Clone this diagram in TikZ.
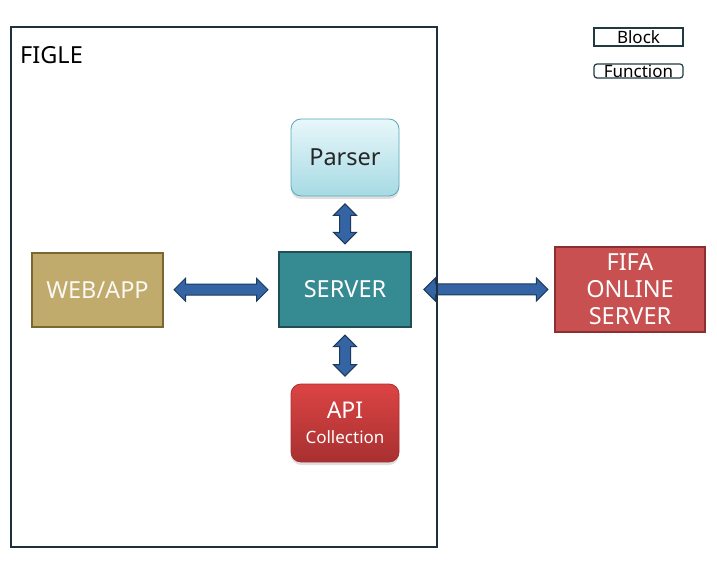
\documentclass[tikz,border=0pt]{standalone}
\usepackage{fontspec}
\setmainfont{Noto Sans}
\usetikzlibrary{shapes.arrows,shadows}
\definecolor{framecol}{HTML}{1F2F40}
\definecolor{webfill}{HTML}{C0AA6C}
\definecolor{webline}{HTML}{7A6830}
\definecolor{srvfill}{HTML}{368A92}
\definecolor{srvline}{HTML}{1F4F55}
\definecolor{fifafill}{HTML}{C85050}
\definecolor{fifaline}{HTML}{8A3030}
\definecolor{arrfill}{HTML}{3464A4}
\definecolor{arrline}{HTML}{1C3A5C}
\definecolor{parsertop}{HTML}{E8F7FA}
\definecolor{parserbot}{HTML}{A6DAE4}
\definecolor{parserline}{HTML}{5AA9B8}
\definecolor{apitop}{HTML}{DC4444}
\definecolor{apibot}{HTML}{A83030}
\definecolor{legline}{HTML}{1F3A40}
\begin{document}
\begin{tikzpicture}[x=1pt,y=1pt,
    block/.style={draw,line width=1.2pt,inner sep=0pt,text=white,align=center,
      font=\fontsize{23.5}{27}\selectfont},
    func/.style={block,rounded corners=10pt,line width=0.8pt,
      drop shadow={shadow xshift=0pt,shadow yshift=-3pt,opacity=0.25}},
    bigarrow/.style={double arrow,draw=arrline,fill=arrfill,line width=1pt,
      inner xsep=0pt,inner ysep=5pt,double arrow head extend=6pt,
      double arrow tip angle=90},
    legend/.style={draw=legline,line width=1.2pt,minimum width=89pt,
      inner sep=0pt,font=\fontsize{17}{17}\selectfont}]
  \useasboundingbox (0,0) rectangle (717,560);
  % blocks
  \node (webapp) at (97.5,270) [block,fill=webfill,draw=webline,text=white!92!webfill,
    minimum width=131pt,minimum height=74pt] {WEB/APP};
  \node (server) at (345,270.5) [block,fill=srvfill,draw=srvline,
    minimum width=132pt,minimum height=75pt] {SERVER};
  \node (fifa) at (630,270.5) [block,fill=fifafill,draw=fifaline,
    minimum width=150pt,minimum height=85pt] {FIFA\\ONLINE\\SERVER};
  % functions
  \node (parser) at (345,402.5) [func,top color=parsertop,bottom color=parserbot,
    draw=parserline,text=black!85,minimum width=108pt,minimum height=77pt] {Parser};
  \node (api) at (345,137) [func,top color=apitop,bottom color=apibot,draw=apibot,
    minimum width=108pt,minimum height=78pt]
    {\fontsize{23}{24}\selectfont API\\[-2pt]\fontsize{17}{19}\selectfont Collection};
  % arrows
  \path (parser.south) -- (server.north)
    node [midway,bigarrow,rotate=90,minimum height=40pt] {};
  \path (server.south) -- (api.north)
    node [midway,bigarrow,rotate=90,minimum height=41pt] {};
  \path (webapp.east) -- (server.west)
    node [midway,bigarrow,minimum height=94pt] {};
  \path (server.east) -- (fifa.west)
    node [pos=0.52,bigarrow,minimum height=124pt] {};
  % frame
  \draw[framecol,line width=1.5pt] (11,13) rectangle (437,533);
  \node (figle) at (20,505) [anchor=west,inner sep=0pt,
    font=\fontsize{23.5}{23.5}\selectfont] {FIGLE};
  % legend
  \node (block) at (638.5,523) [legend,minimum height=18pt] {Block};
  \node (function) at (638.5,489) [legend,rounded corners=3pt,
    minimum height=14pt] {Function};
\end{tikzpicture}
\end{document}
